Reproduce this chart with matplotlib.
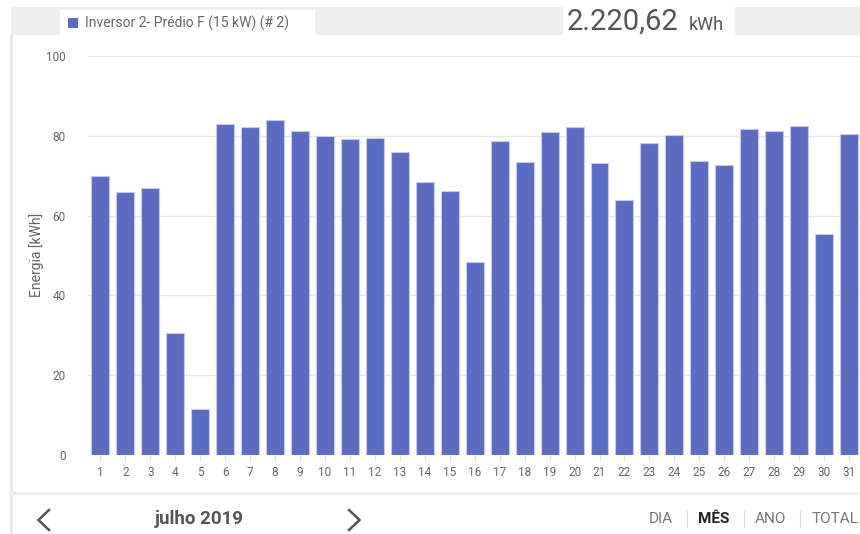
import matplotlib
matplotlib.use("Agg")
import matplotlib.pyplot as plt
from matplotlib.patches import Rectangle
from matplotlib.lines import Line2D

days = list(range(1, 32))
energy = [70.0, 66.0, 67.0, 30.5, 11.6, 82.9, 82.1, 84.0, 81.3, 80.0,
          79.2, 79.4, 75.9, 68.4, 66.2, 48.3, 78.7, 73.5, 81.0, 82.2,
          73.2, 63.8, 78.1, 80.3, 73.7, 72.6, 81.8, 81.3, 82.4, 55.3, 80.5]
yticks = [0, 20, 40, 60, 80, 100]
series_name = "Inversor 2- Prédio F (15 kW) (# 2)"
total_text = "2.220,62"
unit_text = "kWh"
month_text = "julho 2019"
ylabel = "Energia [kWh]"
nav_items = ["DIA", "MÊS", "ANO", "TOTAL"]

plt.rcParams['font.family'] = ['Roboto', 'DejaVu Sans']

W, H = 860, 534
fig = plt.figure(figsize=(W / 100, H / 100), dpi=100)
fig.patch.set_facecolor("white")

def fx(px):
    return px / W

def fy(py):
    return 1 - py / H

# header band
fig.add_artist(Rectangle((fx(11), fy(35)), fx(860 - 11), (35 - 7) / H,
                         transform=fig.transFigure, facecolor="#eeeeee",
                         edgecolor="none", zorder=0))
# tab (legend)
fig.add_artist(Rectangle((fx(60), fy(35)), fx(315 - 60), (35 - 10) / H,
                         transform=fig.transFigure, facecolor="white",
                         edgecolor="none", zorder=1))
# total box
fig.add_artist(Rectangle((fx(563), fy(35)), fx(735 - 563), (35 - 7) / H,
                         transform=fig.transFigure, facecolor="white",
                         edgecolor="none", zorder=1))
# legend square
fig.add_artist(Rectangle((fx(68), fy(28)), fx(10), 10 / H,
                         transform=fig.transFigure, facecolor="#5c6bc0",
                         edgecolor="none", zorder=2))
fig.text(fx(85), fy(23), series_name, fontsize=10, color="#666666",
         va="center", ha="left", zorder=3)
fig.text(fx(567), fy(22), total_text, fontsize=21, color="#555555",
         va="center", ha="left", zorder=3)
fig.text(fx(689), fy(24.5), unit_text, fontsize=13, color="#555555",
         va="center", ha="left", zorder=3)

# left border
fig.add_artist(Line2D([fx(10.5), fx(10.5)], [fy(35), 0], transform=fig.transFigure,
                      color="#e8e8e8", lw=2, zorder=1))
# bottom separator
fig.add_artist(Line2D([fx(10), 1], [fy(493), fy(493)], transform=fig.transFigure,
                      color="#eeeeee", lw=2.5, zorder=1))

# axes
ax_left, ax_right = 88, 861.5
ax_top, ax_bottom = 56, 455
ax = fig.add_axes([fx(ax_left), 1 - ax_bottom / H, fx(ax_right - ax_left),
                   (ax_bottom - ax_top) / H])
ax.set_facecolor("none")
ax.bar(days, energy, width=0.72, color="#5c6bc0", edgecolor="#c5cae9",
       linewidth=0.8, zorder=3)
ax.set_xlim(0.5, 31.5)
ax.set_ylim(0, 100)
ax.set_yticks(yticks)
ax.set_xticks(days)
ax.set_xticklabels([str(d) for d in days])
for s in ax.spines.values():
    s.set_visible(False)
ax.grid(axis="y", color="#e8e8e8", lw=1, zorder=0)
ax.tick_params(axis="y", length=0, pad=16, labelsize=8.5, labelcolor="#666666")
ax.tick_params(axis="x", length=4, width=0.8, color="#dddddd", pad=4,
               labelsize=8.5, labelcolor="#666666")
ax.set_axisbelow(True)

fig.text(fx(37), fy(255), ylabel, rotation=90, fontsize=10, color="#666666",
         va="center", ha="center")

# bottom navigation: chevrons
fig.add_artist(Line2D([fx(49), fx(38.5), fx(49)], [fy(510), fy(520), fy(530)],
                      transform=fig.transFigure, color="#555555", lw=1.8,
                      solid_joinstyle="miter"))
fig.add_artist(Line2D([fx(349), fx(359.5), fx(349)], [fy(510), fy(520), fy(530)],
                      transform=fig.transFigure, color="#555555", lw=1.8,
                      solid_joinstyle="miter"))
fig.text(fx(199), fy(519), month_text, fontsize=13.5, fontweight="bold",
         color="#555555", va="center", ha="center")

nav_x = [649, 698, 755, 812]
nav_bold = [False, True, False, False]
for txt, x, b in zip(nav_items, nav_x, nav_bold):
    fig.text(fx(x), fy(519), txt, fontsize=11,
             fontweight="bold" if b else "normal",
             color="#222222" if b else "#777777", va="center", ha="left")
for x in [687, 744, 800]:
    fig.add_artist(Line2D([fx(x), fx(x)], [fy(511), fy(527)],
                          transform=fig.transFigure, color="#dddddd", lw=1))

fig.savefig("out.png", dpi=100, facecolor="white")
